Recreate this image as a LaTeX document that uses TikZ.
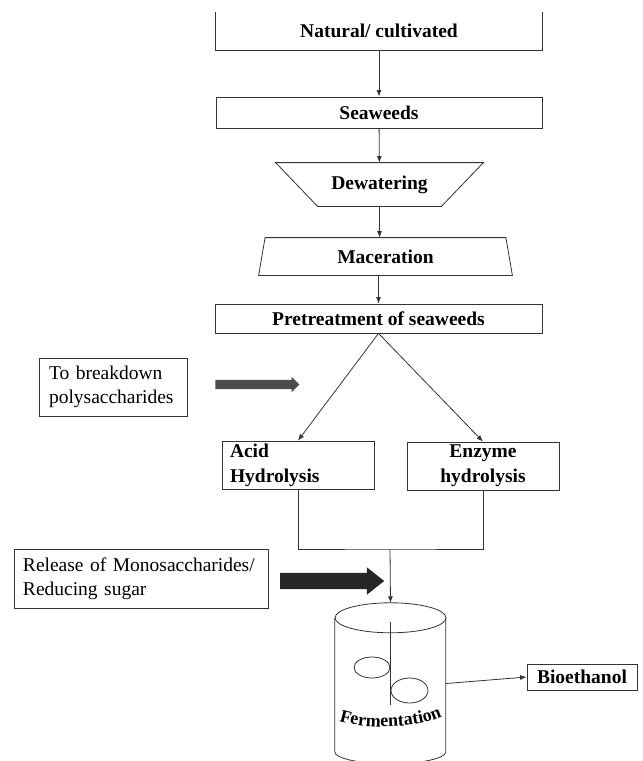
\documentclass[tikz,border=0pt]{standalone}
\usepackage{fontspec}
\setmainfont{Liberation Serif}
\usepackage{tikz}
\usetikzlibrary{arrows.meta,shapes.arrows,decorations.text}

\newcommand{\procfont}{\fontsize{19.5}{25}\selectfont\bfseries}
\newcommand{\notefont}{\fontsize{19.5}{24}\selectfont}
\newcommand{\fermfont}{\fontsize{18}{18}\selectfont\bfseries}

\begin{document}
\begin{tikzpicture}[x=1pt,y=-1pt,
        line/.style={draw=black!80,line width=0.8pt},
        flow/.style={line,-{Latex[length=6.5pt,width=5pt]}},
        procbox/.style={line,font=\procfont,inner sep=0pt},
        notebox/.style={line,font=\notefont,inner sep=0pt,align=left},
        blockarrow/.style={single arrow,inner sep=0pt,text depth=0pt}]
            \useasboundingbox (0,0) rectangle (643,761);

            % Main chain
            \node (natural) [procbox,draw=none,minimum width=326pt,minimum height=38pt] at (379,31) {Natural/ cultivated};
            \draw[line] (natural.north west) -- (natural.south west) -- (natural.south east) -- (natural.north east); % open top
            \node (seaweeds) [procbox,draw,minimum width=326pt,minimum height=31pt] at (379,112.5) {Seaweeds};
            \node (dewater) [procbox,draw=none,minimum width=207pt,minimum height=43pt] at (379.5,184.5) {Dewatering};
            \draw[line] (dewater.north west) -- (dewater.north east) -- ([xshift=-42pt]dewater.south east) -- ([xshift=42pt]dewater.south west) -- cycle;
            \node (macer) [procbox,draw=none,minimum width=253pt,minimum height=37pt] at (385.5,256.5) {Maceration};
            \draw[line] ([xshift=6.5pt]macer.north west) -- ([xshift=-6.5pt]macer.north east) -- (macer.south east) -- (macer.south west) -- cycle;
            \node (pretreat) [procbox,draw,minimum width=327pt,minimum height=29pt] at (378.5,318.5) {Pretreatment of seaweeds};

            \draw[flow] (natural) -- (seaweeds);
            \draw[flow] (seaweeds) -- (dewater);
            \draw[flow] (dewater.south) -- (dewater.south |- macer.north);
            \draw[flow] (pretreat.north |- macer.south) -- (pretreat.north);

            % Hydrolysis
            \node (acid) [procbox,draw,minimum width=152pt,minimum height=48pt,text width=136pt,align=left] at (298,465) {Acid\\Hydrolysis};
            \node (enzyme) [procbox,draw,minimum width=152pt,minimum height=48pt,text width=136pt,align=center] at (483,466) {Enzyme\\hydrolysis};
            \draw[flow] (pretreat.south) -- (acid.north);
            \draw[flow] (pretreat.south) -- (enzyme.north);

            \coordinate (merge) at (390,549);
            \draw[line] (acid.south) |- (merge) -| (enzyme.south);

            % Side notes
            \node (breakdown) [notebox,minimum width=148pt,minimum height=58pt,text width=128pt] at (113,387) {To breakdown\\polysaccharides};
            \node (brkarrow) [blockarrow,fill=black!70,minimum height=84pt,minimum width=15pt,text height=9pt,single arrow head extend=3pt] at (255,384.5) {};
            \node (release) [notebox,minimum width=254pt,minimum height=59pt,text width=236pt] at (141,578.5) {Release of Monosaccharides/\\Reducing sugar};
            \node (relarrow) [blockarrow,fill=black!85,minimum height=104pt,minimum width=27pt,text height=16pt,single arrow head extend=5.5pt,single arrow tip angle=77] at (327,581) {};

            % Fermenter
            \node (tank) [minimum width=111pt,minimum height=161pt,inner sep=0pt] at (390.5,683.5) {};
            \draw[flow] (merge) -- (tank.north);
            \draw[line] (tank.north) ++(0,15) ellipse [x radius=55.5,y radius=15];
            \draw[line] (tank.north west) ++(0,15) -- ++(0,134) arc[start angle=180,end angle=0,x radius=55.5,y radius=12] -- ++(0,-134);
            \draw[line] (tank.north) ++(0,19) -- ++(0,83); % stirrer
            \draw[line] (372,667.5) ellipse [x radius=18,y radius=10.5];
            \draw[line] (409.5,690.5) ellipse [x radius=18.5,y radius=12.5];
            \path[decorate,decoration={text along path,text align=center,text={|\fermfont|Fermentation}}]
                (336,720) .. controls (362,730) and (418,730) .. (445,715);

            \node (bio) [procbox,draw,minimum width=110pt,minimum height=26pt] at (582,677) {Bioethanol};
            \draw[flow] (tank.east) -- (bio.west);

        \end{tikzpicture}
\end{document}
